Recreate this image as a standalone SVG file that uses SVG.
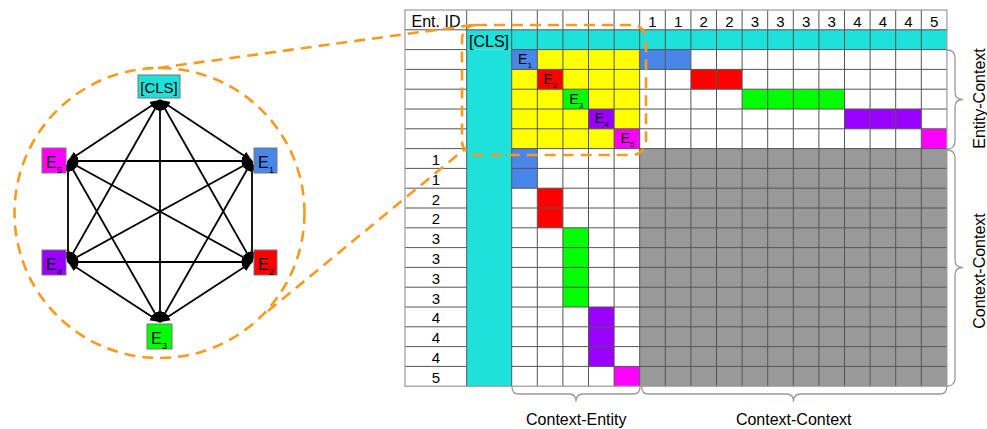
<svg xmlns="http://www.w3.org/2000/svg" width="987" height="429" viewBox="0 0 987 429">
<style>
text{font-family:"Liberation Sans",Arial,sans-serif;fill:#000}
.num{font-size:15px;text-anchor:middle}
.grid{fill:none;stroke:#555;stroke-width:1}
.brace{fill:none;stroke:#999;stroke-width:1.3}
.dash{fill:none;stroke:#F89A1F;stroke-width:2.6;stroke-dasharray:11 7}
.edge{stroke:#000;stroke-width:1.8;marker-start:url(#ah);marker-end:url(#ah)}
.node rect{stroke:#777;stroke-width:1}
.lbl{font-size:14px}
.sub{font-size:8px}
</style>
<defs>
<marker id="ah" markerUnits="userSpaceOnUse" markerWidth="11" markerHeight="9" refX="10" refY="4.5" orient="auto-start-reverse">
<path d="M0,0 L10,4.5 L0,9 z" fill="#000"/>
</marker>
</defs>
<rect width="987" height="429" fill="#fff"/>

<!-- Graph -->
<g id="edges">
<line class="edge" x1="160" y1="100" x2="252" y2="161"/>
<line class="edge" x1="160" y1="100" x2="252" y2="262"/>
<line class="edge" x1="160" y1="100" x2="160" y2="322"/>
<line class="edge" x1="160" y1="100" x2="68" y2="262"/>
<line class="edge" x1="160" y1="100" x2="68" y2="161"/>
<line class="edge" x1="252" y1="161" x2="252" y2="262"/>
<line class="edge" x1="252" y1="161" x2="160" y2="322"/>
<line class="edge" x1="252" y1="161" x2="68" y2="262"/>
<line class="edge" x1="252" y1="161" x2="68" y2="161"/>
<line class="edge" x1="252" y1="262" x2="160" y2="322"/>
<line class="edge" x1="252" y1="262" x2="68" y2="262"/>
<line class="edge" x1="252" y1="262" x2="68" y2="161"/>
<line class="edge" x1="160" y1="322" x2="68" y2="262"/>
<line class="edge" x1="160" y1="322" x2="68" y2="161"/>
<line class="edge" x1="68" y1="262" x2="68" y2="161"/>
</g>
<g id="node-cls" class="node"><rect x="138" y="75" width="42" height="23" fill="#1DE1DA"/><text x="159" y="93" font-size="15" text-anchor="middle">[CLS]</text></g>
<g id="node-e1" class="node"><rect x="254" y="148" width="23" height="25" fill="#4A86E8"/><text x="258" y="168" font-size="16">E</text><text x="269" y="173" font-size="9">1</text></g>
<g id="node-e2" class="node"><rect x="254" y="250" width="23" height="25" fill="#FF0000"/><text x="258" y="270" font-size="16">E</text><text x="269" y="275" font-size="9">2</text></g>
<g id="node-e3" class="node"><rect x="147" y="324" width="25" height="25" fill="#00FF00"/><text x="151" y="344" font-size="16">E</text><text x="162" y="349" font-size="9">3</text></g>
<g id="node-e4" class="node"><rect x="42" y="250" width="24" height="25" fill="#9900FF"/><text x="46" y="270" font-size="16">E</text><text x="57" y="275" font-size="9">4</text></g>
<g id="node-e5" class="node"><rect x="42" y="148" width="24" height="25" fill="#FF00FF"/><text x="46" y="168" font-size="16">E</text><text x="57" y="173" font-size="9">5</text></g>

<!-- Matrix fills -->
<g id="matrix">
<rect x="466.7" y="29.8" width="480.2" height="19.8" fill="#1DE1DA"/>
<rect x="466.7" y="49.6" width="45" height="336.6" fill="#1DE1DA"/>
<rect x="511.7" y="49.6" width="128" height="99" fill="#FFFF00"/>
<rect x="511.7" y="49.6" width="25.6" height="19.8" fill="#4A86E8"/>
<rect x="537.3" y="69.4" width="25.6" height="19.8" fill="#FF0000"/>
<rect x="562.9" y="89.2" width="25.6" height="19.8" fill="#00FF00"/>
<rect x="588.5" y="109" width="25.6" height="19.8" fill="#9900FF"/>
<rect x="614.1" y="128.8" width="25.6" height="19.8" fill="#FF00FF"/>
<rect x="639.7" y="49.6" width="51.2" height="19.8" fill="#4A86E8"/>
<rect x="690.9" y="69.4" width="51.2" height="19.8" fill="#FF0000"/>
<rect x="742.1" y="89.2" width="102.4" height="19.8" fill="#00FF00"/>
<rect x="844.5" y="109" width="76.8" height="19.8" fill="#9900FF"/>
<rect x="921.3" y="128.8" width="25.6" height="19.8" fill="#FF00FF"/>
<rect x="511.7" y="148.6" width="25.6" height="39.6" fill="#4A86E8"/>
<rect x="537.3" y="188.2" width="25.6" height="39.6" fill="#FF0000"/>
<rect x="562.9" y="227.8" width="25.6" height="79.2" fill="#00FF00"/>
<rect x="588.5" y="307" width="25.6" height="59.4" fill="#9900FF"/>
<rect x="614.1" y="366.4" width="25.6" height="19.8" fill="#FF00FF"/>
<rect x="639.7" y="148.6" width="307.2" height="237.6" fill="#999999"/>

<path class="grid" d="M405,29.8H946.9
M405,49.6H466.7M511.7,49.6H946.9
M405,69.4H466.7M511.7,69.4H946.9
M405,89.2H466.7M511.7,89.2H946.9
M405,109H466.7M511.7,109H946.9
M405,128.8H466.7M511.7,128.8H946.9
M405,148.6H466.7M511.7,148.6H946.9
M405,168.4H466.7M511.7,168.4H946.9
M405,188.2H466.7M511.7,188.2H946.9
M405,208H466.7M511.7,208H946.9
M405,227.8H466.7M511.7,227.8H946.9
M405,247.6H466.7M511.7,247.6H946.9
M405,267.4H466.7M511.7,267.4H946.9
M405,287.2H466.7M511.7,287.2H946.9
M405,307H466.7M511.7,307H946.9
M405,326.8H466.7M511.7,326.8H946.9
M405,346.6H466.7M511.7,346.6H946.9
M405,366.4H466.7M511.7,366.4H946.9
M466.7,10V386.2M511.7,10V386.2M537.3,10V386.2M562.9,10V386.2M588.5,10V386.2M614.1,10V386.2
M639.7,10V386.2M665.3,10V386.2M690.9,10V386.2M716.5,10V386.2M742.1,10V386.2M767.7,10V386.2
M793.3,10V386.2M818.9,10V386.2M844.5,10V386.2M870.1,10V386.2M895.7,10V386.2M921.3,10V386.2"/>
<rect x="405" y="10" width="541.9" height="376.2" fill="none" stroke="#999" stroke-width="1.2"/>

<text x="436" y="26.5" font-size="16" text-anchor="middle">Ent. ID</text>
<text x="469" y="46.5" font-size="16">[CLS]</text>
<g class="num">
<text x="652.5" y="26.5">1</text><text x="678.1" y="26.5">1</text><text x="703.7" y="26.5">2</text><text x="729.3" y="26.5">2</text>
<text x="754.9" y="26.5">3</text><text x="780.5" y="26.5">3</text><text x="806.1" y="26.5">3</text><text x="831.7" y="26.5">3</text>
<text x="857.3" y="26.5">4</text><text x="882.9" y="26.5">4</text><text x="908.5" y="26.5">4</text><text x="934.1" y="26.5">5</text>
<text x="436" y="165">1</text><text x="436" y="184.8">1</text><text x="436" y="204.6">2</text><text x="436" y="224.4">2</text>
<text x="436" y="244.2">3</text><text x="436" y="264">3</text><text x="436" y="283.8">3</text><text x="436" y="303.6">3</text>
<text x="436" y="323.4">4</text><text x="436" y="343.2">4</text><text x="436" y="363">4</text><text x="436" y="382.8">5</text>
</g>
<text class="lbl" x="518" y="64">E</text><text class="sub" x="527.5" y="68">1</text>
<text class="lbl" x="543.6" y="83.8">E</text><text class="sub" x="553.1" y="87.8">2</text>
<text class="lbl" x="569.2" y="103.6">E</text><text class="sub" x="578.7" y="107.6">3</text>
<text class="lbl" x="594.8" y="123.4">E</text><text class="sub" x="604.3" y="127.4">4</text>
<text class="lbl" x="620.4" y="143.2">E</text><text class="sub" x="629.9" y="147.2">5</text>
</g>

<!-- Braces -->
<g id="braces">
<path class="brace" d="M947,50 Q955,50 955,58 V92 Q955,99.5 963,99.5 Q955,99.5 955,107 V141 Q955,149 947,149"/>
<path class="brace" d="M947,150 Q955,150 955,158 V260 Q955,267.5 963,267.5 Q955,267.5 955,275 V378 Q955,386 947,386"/>
<path class="brace" d="M512,387 Q512,394 519,394 H569 Q576,394 576,401.7 Q576,394 583,394 H633 Q640,394 640,387"/>
<path class="brace" d="M641.7,387 Q641.7,394 648.7,394 H786.5 Q793.5,394 793.5,401.7 Q793.5,394 800.5,394 H939.7 Q946.7,394 946.7,387"/>
</g>
<text x="576.3" y="425" font-size="16" text-anchor="middle">Context-Entity</text>
<text x="793.7" y="425" font-size="16" text-anchor="middle">Context-Context</text>
<text transform="translate(985,98.5) rotate(-90)" font-size="16" text-anchor="middle">Entity-Context</text>
<text transform="translate(985,271) rotate(-90)" font-size="16" text-anchor="middle">Context-Context</text>

<!-- Zoom callout -->
<g id="callout">
<circle class="dash" cx="159.5" cy="213" r="145"/>
<path class="dash" d="M158,68 L472,25"/>
<path class="dash" d="M268,311 L466,148"/>
<rect class="dash" x="462" y="25" width="184" height="130" rx="14"/>
</g>
</svg>
